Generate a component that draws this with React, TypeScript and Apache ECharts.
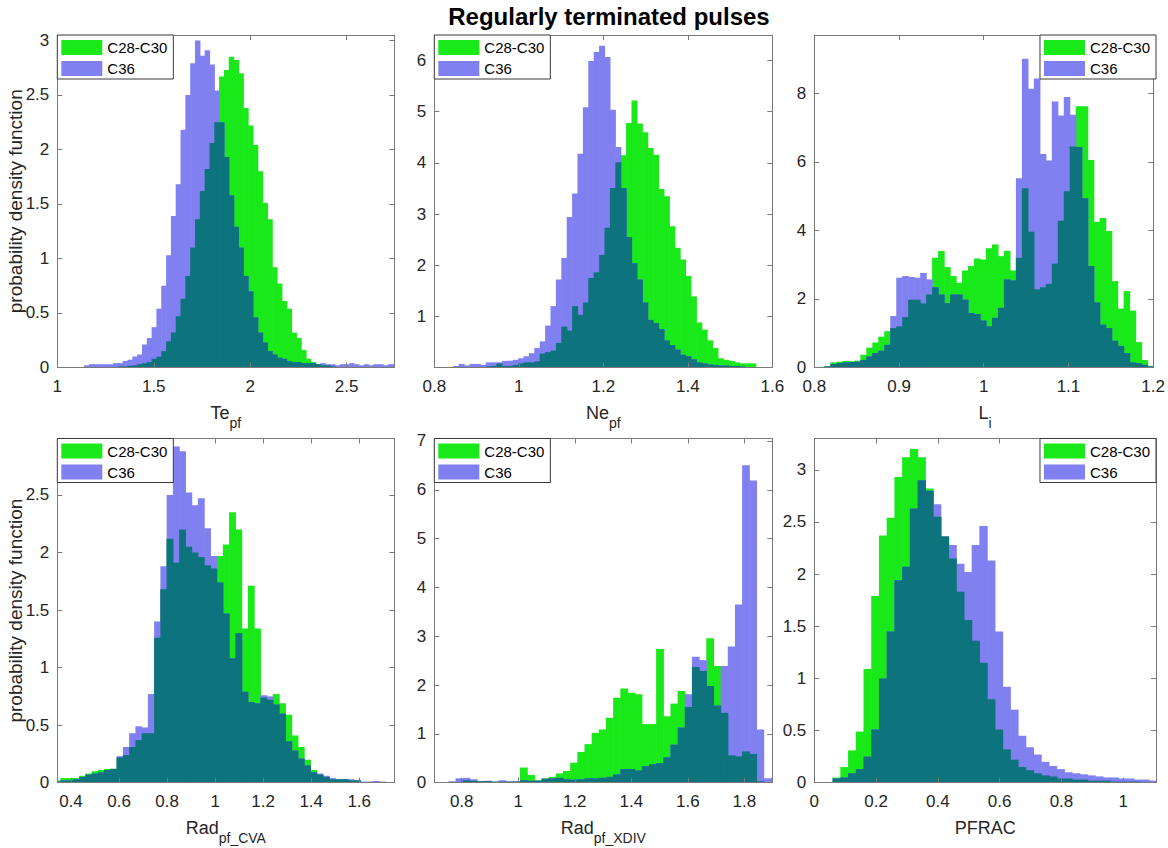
import React, { useEffect, useRef } from "react";
import * as echarts from "echarts";

const TITLE = "Regularly terminated pulses";
const SERIES_NAMES = ["C28-C30", "C36"];
const Y_NAME = "probability density function";

// ---- Te_pf ----
const TE_BIN_START = 1.1389;
const TE_BIN_WIDTH = 0.025;
const TE_C28 = [
  0, 0, 0, 0, 0, 0, 0, 0.01, 0.01, 0.015,
  0.02, 0.03, 0.04, 0.05, 0.08, 0.1, 0.15, 0.24, 0.32, 0.47,
  0.63, 0.84, 1.1, 1.36, 1.62, 1.82, 2.06, 2.25, 2.67, 2.73,
  2.85, 2.82, 2.7, 2.38, 2.22, 2.04, 1.8, 1.51, 1.36, 0.92,
  0.77, 0.61, 0.54, 0.32, 0.27, 0.16, 0.08, 0.05, 0.03, 0.02,
  0.02, 0.01, 0, 0, 0, 0, 0, 0, 0, 0,
  0, 0, 0, 0, 0,
];
const TE_C36 = [
  0.02, 0.03, 0.03, 0.03, 0.03, 0.03, 0.04, 0.04, 0.06, 0.07,
  0.1, 0.12, 0.21, 0.27, 0.37, 0.54, 0.75, 1.03, 1.39, 1.68,
  2.18, 2.5, 2.79, 3.0, 2.86, 2.91, 2.78, 2.54, 2.25, 1.93,
  1.58, 1.29, 1.1, 0.84, 0.7, 0.46, 0.32, 0.23, 0.15, 0.12,
  0.09, 0.08, 0.06, 0.05, 0.05, 0.04, 0.04, 0.04, 0.03, 0.04,
  0.03, 0.03, 0.02, 0.03, 0.03, 0.04, 0.03, 0.02, 0.03, 0.02,
  0.03, 0.03, 0.02, 0.03, 0.03,
];
const TE_RANGE = [1, 2.747, 3.05];
const TE_X_TICKS = [1, 1.5, 2, 2.5];
const TE_Y_TICKS = [0, 0.5, 1, 1.5, 2, 2.5, 3];

// ---- Ne_pf ----
const NE_BIN_START = 0.845;
const NE_BIN_WIDTH = 0.01278;
const NE_C28 = [
  0, 0, 0, 0, 0, 0, 0.02, 0.03, 0.08, 0.03,
  0.03, 0.05, 0.08, 0.1, 0.1, 0.12, 0.27, 0.3, 0.33, 0.48,
  0.8, 0.72, 1.2, 1.03, 1.27, 1.75, 1.86, 2.2, 2.73, 3.51,
  4.01, 4.15, 4.78, 5.22, 4.77, 4.6, 4.29, 4.16, 3.49, 3.35,
  2.76, 2.34, 2.11, 1.79, 1.39, 0.88, 0.74, 0.53, 0.38, 0.18,
  0.15, 0.13, 0.1, 0.08, 0.08, 0.08,
];
const NE_C36 = [
  0.03, 0.07, 0.04, 0.07, 0.07, 0.05, 0.1, 0.1, 0.1, 0.13,
  0.13, 0.15, 0.18, 0.22, 0.28, 0.38, 0.51, 0.82, 1.2, 1.72,
  2.14, 2.94, 3.4, 4.18, 5.09, 5.99, 6.17, 6.29, 6.07, 5.04,
  4.31, 3.51, 2.55, 2.04, 1.72, 1.27, 0.93, 0.87, 0.75, 0.53,
  0.44, 0.35, 0.25, 0.22, 0.16, 0.1, 0.08, 0.06, 0.05, 0.04,
  0.04, 0.03, 0.03, 0.02, 0, 0,
];
const NE_RANGE = [0.8, 1.6, 6.5];
const NE_X_TICKS = [0.8, 1, 1.2, 1.4, 1.6];
const NE_Y_TICKS = [1, 2, 3, 4, 5, 6];

// ---- L_i ----
const LI_BIN_START = 0.80488;
const LI_BIN_WIDTH = 0.007063;
const LI_C28 = [
  0.02, 0.04, 0.15, 0.17, 0.19, 0.18, 0.2, 0.37, 0.58, 0.73,
  0.9, 1.06, 1.15, 1.2, 1.47, 1.98, 1.98, 1.87, 2.13, 3.2,
  3.4, 2.93, 2.67, 2.47, 2.83, 2.96, 3.18, 3.15, 3.48, 3.59,
  3.25, 3.4, 2.83, 3.2, 5.23, 3.96, 2.28, 2.34, 2.44, 3.03,
  4.28, 5.14, 6.45, 7.62, 7.62, 6.05, 4.25, 4.36, 3.98, 2.52,
  1.72, 2.23, 1.66, 0.74, 0.22, 0.05,
];
const LI_C36 = [
  0.01, 0.03, 0.1, 0.13, 0.15, 0.16, 0.17, 0.22, 0.32, 0.42,
  0.49, 0.66, 1.5, 2.62, 2.67, 2.64, 2.62, 2.76, 2.57, 2.34,
  2.13, 1.88, 2.13, 2.13, 1.98, 1.59, 1.56, 1.37, 1.2, 1.45,
  1.74, 2.57, 2.54, 5.52, 9.01, 8.13, 8.43, 6.23, 6.04, 7.76,
  7.35, 7.89, 7.37, 6.43, 4.94, 2.96, 1.9, 1.25, 1.15, 0.78,
  0.63, 0.42, 0.15, 0.13, 0.08, 0.03,
];
const LI_RANGE = [0.8, 1.2, 9.7];
const LI_X_TICKS = [0.8, 0.9, 1, 1.1, 1.2];
const LI_Y_TICKS = [0, 2, 4, 6, 8];

// ---- Rad_pf_CVA ----
const CVA_BIN_START = 0.33;
const CVA_BIN_WIDTH = 0.02601;
const CVA_C28 = [
  0.02, 0.04, 0.04, 0.04, 0.06, 0.08, 0.1, 0.11, 0.12, 0.12,
  0.22, 0.24, 0.31, 0.37, 0.43, 0.43, 1.26, 1.68, 2.12, 1.91,
  2.2, 2.05, 2.0, 1.96, 1.89, 1.86, 1.97, 2.07, 2.35, 2.2,
  1.34, 1.71, 1.34, 0.74, 0.72, 0.77, 0.69, 0.59, 0.41, 0.31,
  0.2, 0.11, 0.07, 0.05, 0.03, 0.03, 0.03, 0.02, 0.02, 0,
  0, 0, 0, 0, 0,
];
const CVA_C36 = [
  0.01, 0.02, 0.02, 0.03, 0.05, 0.07, 0.08, 0.09, 0.11, 0.12,
  0.23, 0.31, 0.43, 0.49, 0.48, 0.77, 1.4, 1.88, 2.5, 2.92,
  2.88, 2.52, 2.41, 2.47, 2.21, 1.97, 1.74, 1.47, 1.08, 1.3,
  0.79, 0.7, 0.69, 0.76, 0.75, 0.68, 0.6, 0.36, 0.28, 0.21,
  0.15, 0.09, 0.08, 0.06, 0.04, 0.03, 0.03, 0.03, 0.02, 0.01,
  0.01, 0.015, 0.01, 0.005, 0,
];
const CVA_RANGE = [0.343, 1.746, 2.99];
const CVA_X_TICKS = [0.4, 0.6, 0.8, 1, 1.2, 1.4, 1.6];
const CVA_Y_TICKS = [0, 0.5, 1, 1.5, 2, 2.5];

// ---- Rad_pf_XDIV ----
const XDIV_BIN_START = 0.7528;
const XDIV_BIN_WIDTH = 0.02535;
const XDIV_C28 = [
  0, 0, 0.05, 0.04, 0.03, 0.03, 0.02, 0.02, 0.02, 0.02,
  0.31, 0.16, 0.05, 0.09, 0.12, 0.19, 0.24, 0.41, 0.63, 0.79,
  1.02, 1.09, 1.33, 1.74, 1.93, 1.84, 1.81, 1.2, 1.2, 2.74,
  1.36, 1.62, 1.88, 1.55, 2.37, 2.29, 2.96, 2.39, 1.43, 0.56,
  0.54, 0.64, 0.59, 0.03, 0, 0,
];
const XDIV_C36 = [
  0.03, 0.09, 0.1, 0.07, 0.03, 0.04, 0.02, 0.05, 0.03, 0.03,
  0.05, 0.04, 0.04, 0.08, 0.09, 0.1, 0.07, 0.06, 0.07, 0.09,
  0.09, 0.1, 0.12, 0.17, 0.28, 0.28, 0.25, 0.34, 0.38, 0.4,
  0.52, 0.78, 1.13, 1.81, 2.58, 2.51, 1.98, 1.58, 2.39, 2.79,
  3.65, 6.5, 6.19, 1.09, 0.09, 0.1,
];
const XDIV_RANGE = [0.703, 1.899, 7.05];
const XDIV_X_TICKS = [0.8, 1, 1.2, 1.4, 1.6, 1.8];
const XDIV_Y_TICKS = [0, 1, 2, 3, 4, 5, 6, 7];

// ---- PFRAC ----
const PF_BIN_START = 0.0593;
const PF_BIN_WIDTH = 0.025;
const PF_C28 = [
  0.05, 0.15, 0.31, 0.49, 1.09, 1.79, 2.37, 2.54, 2.93, 3.12,
  3.2, 3.12, 2.82, 2.55, 2.36, 2.15, 1.83, 1.56, 1.36, 1.15,
  0.8, 0.51, 0.32, 0.22, 0.15, 0.12, 0.09, 0.07, 0.06, 0.04,
  0.04, 0.03, 0.03, 0.02, 0.02, 0.02, 0.01, 0.01, 0.01, 0.01,
  0, 0,
];
const PF_C36 = [
  0.04, 0.05, 0.09, 0.13, 0.25, 0.51, 1.0, 1.45, 1.94, 2.07,
  2.63, 2.9, 2.8, 2.67, 2.36, 2.28, 2.1, 2.02, 2.28, 2.46,
  2.13, 1.45, 0.92, 0.7, 0.45, 0.34, 0.27, 0.2, 0.16, 0.13,
  0.1, 0.09, 0.08, 0.07, 0.06, 0.05, 0.05, 0.04, 0.04, 0.03,
  0.03, 0.02,
];
const PF_RANGE = [0, 1.106, 3.3];
const PF_X_TICKS = [0, 0.2, 0.4, 0.6, 0.8, 1];
const PF_Y_TICKS = [0, 0.5, 1, 1.5, 2, 2.5, 3];

// ---- styling / layout ----
const FONT = "'Liberation Sans', Arial, Helvetica, sans-serif";
const GREEN = "#19e819";
const PURPLE = "#8080f0";
const TEAL = "#0d737d";
const AXIS_COLOR = "#7a7a7a";
const TEXT_COLOR = "#262626";

const COLS = [
  { left: 57.3, width: 337 },
  { left: 434.3, width: 338 },
  { left: 814.3, width: 341.7 },
];
const ROWS = [
  { top: 35, height: 332.5 },
  { top: 438.5, height: 344.2 },
];

const PANELS = [
  { main: "Te", sub: "pf", start: TE_BIN_START, bw: TE_BIN_WIDTH, c28: TE_C28, c36: TE_C36, range: TE_RANGE, xt: TE_X_TICKS, yt: TE_Y_TICKS, row: 0, col: 0 },
  { main: "Ne", sub: "pf", start: NE_BIN_START, bw: NE_BIN_WIDTH, c28: NE_C28, c36: NE_C36, range: NE_RANGE, xt: NE_X_TICKS, yt: NE_Y_TICKS, row: 0, col: 1 },
  { main: "L", sub: "i", start: LI_BIN_START, bw: LI_BIN_WIDTH, c28: LI_C28, c36: LI_C36, range: LI_RANGE, xt: LI_X_TICKS, yt: LI_Y_TICKS, row: 0, col: 2 },
  { main: "Rad", sub: "pf_CVA", start: CVA_BIN_START, bw: CVA_BIN_WIDTH, c28: CVA_C28, c36: CVA_C36, range: CVA_RANGE, xt: CVA_X_TICKS, yt: CVA_Y_TICKS, row: 1, col: 0 },
  { main: "Rad", sub: "pf_XDIV", start: XDIV_BIN_START, bw: XDIV_BIN_WIDTH, c28: XDIV_C28, c36: XDIV_C36, range: XDIV_RANGE, xt: XDIV_X_TICKS, yt: XDIV_Y_TICKS, row: 1, col: 1 },
  { main: "PFRAC", sub: "", start: PF_BIN_START, bw: PF_BIN_WIDTH, c28: PF_C28, c36: PF_C36, range: PF_RANGE, xt: PF_X_TICKS, yt: PF_Y_TICKS, row: 1, col: 2 },
];

function makeRender(color: string) {
  return (params: any, api: any) => {
    const x0 = api.value(0);
    const x1 = api.value(1);
    const h = api.value(2);
    if (!(h > 0)) return null;
    const a = api.coord([x0, 0]);
    const b = api.coord([x1, h]);
    const cs = params.coordSys;
    const shape = echarts.graphic.clipRectByRect(
      { x: a[0], y: b[1], width: b[0] - a[0] + 0.6, height: a[1] - b[1] },
      { x: cs.x, y: cs.y, width: cs.width, height: cs.height }
    );
    if (!shape) return null;
    return { type: "rect", shape, style: { fill: color } };
  };
}

function axis(gridIndex: number, min: number, max: number, ticks: number[], position: string, showLabel: boolean, margin: number) {
  return {
    type: "value",
    gridIndex,
    min,
    max,
    position,
    z: 5,
    axisLine: { show: true, onZero: false, lineStyle: { color: AXIS_COLOR, width: 1 } },
    axisTick: { show: true, inside: true, length: 5, customValues: ticks, lineStyle: { color: AXIS_COLOR } },
    axisLabel: { show: showLabel, customValues: ticks, margin, fontSize: 17, color: TEXT_COLOR, fontFamily: FONT },
    splitLine: { show: false },
  };
}

export default function App() {
  const ref = useRef<HTMLDivElement>(null);

  useEffect(() => {
    if (!ref.current) return;
    const chart = echarts.init(ref.current, undefined, { renderer: "svg" });

    const grid: any[] = [];
    const xAxis: any[] = [];
    const yAxis: any[] = [];
    const series: any[] = [];
    const legend: any[] = [];
    const graphic: any[] = [];

    PANELS.forEach((p, i) => {
      const c = COLS[p.col];
      const r = ROWS[p.row];
      grid.push({ left: c.left, top: r.top, width: c.width, height: r.height, containLabel: false });
      const xb = xAxis.length;
      xAxis.push(axis(i, p.range[0], p.range[1], p.xt, "bottom", true, 10));
      xAxis.push(axis(i, p.range[0], p.range[1], p.xt, "top", false, 10));
      const yb = yAxis.length;
      yAxis.push(axis(i, 0, p.range[2], p.yt, "left", true, 8));
      yAxis.push(axis(i, 0, p.range[2], p.yt, "right", false, 8));

      const edges = p.c28.map((_, k) => [p.start + k * p.bw, p.start + (k + 1) * p.bw]);
      const dGreen = p.c28.map((v, k) => [edges[k][0], edges[k][1], v]);
      const dPurple = p.c36.map((v, k) => [edges[k][0], edges[k][1], v]);
      const dOverlap = p.c28.map((v, k) => [edges[k][0], edges[k][1], Math.min(v, p.c36[k])]);
      const base = { type: "custom", xAxisIndex: xb, yAxisIndex: yb, encode: { x: [0, 1], y: 2 }, silent: true };
      series.push({ ...base, name: SERIES_NAMES[0], itemStyle: { color: GREEN }, renderItem: makeRender(GREEN), data: dGreen, z: 2 });
      series.push({ ...base, name: SERIES_NAMES[1], itemStyle: { color: PURPLE }, renderItem: makeRender(PURPLE), data: dPurple, z: 3 });
      series.push({ ...base, name: "overlap", itemStyle: { color: TEAL }, renderItem: makeRender(TEAL), data: dOverlap, z: 4 });

      const leg: any = {
        orient: "vertical",
        top: r.top,
        data: SERIES_NAMES,
        icon: "rect",
        itemWidth: 41,
        itemHeight: 15,
        itemGap: 6,
        padding: [5, 6, 3, 4],
        backgroundColor: "#ffffff",
        borderColor: "#3a3a3a",
        borderWidth: 1,
        selectedMode: false,
        textStyle: { fontSize: 15, color: "#000", fontFamily: FONT, lineHeight: 15 },
        z: 10,
      };
      if (p.col === 2) leg.right = 1168 - (c.left + c.width);
      else leg.left = c.left;
      legend.push(leg);

      const rich: any = {
        m: { fontSize: 18, lineHeight: 20, fontFamily: FONT, fill: TEXT_COLOR, color: TEXT_COLOR },
        s: { fontSize: 14, lineHeight: 16, fontFamily: FONT, fill: TEXT_COLOR, color: TEXT_COLOR, padding: [20, 0, 0, 0] },
      };
      graphic.push({
        type: "text",
        x: c.left + c.width / 2,
        y: r.top + r.height + 45,
        z: 10,
        style: {
          text: p.sub ? `{m|${p.main}}{s|${p.sub}}` : `{m|${p.main}}`,
          rich,
          fill: TEXT_COLOR,
          font: `18px ${FONT}`,
          align: "center",
          verticalAlign: "middle",
          textAlign: "center",
          textVerticalAlign: "middle",
        },
      });
    });

    ROWS.forEach((r) => {
      graphic.push({
        type: "text",
        x: 15,
        y: r.top + r.height / 2,
        rotation: Math.PI / 2,
        z: 10,
        style: {
          text: Y_NAME,
          fill: TEXT_COLOR,
          font: `19px ${FONT}`,
          align: "center",
          verticalAlign: "middle",
          textAlign: "center",
          textVerticalAlign: "middle",
        },
      });
    });

    graphic.push({
      type: "text",
      x: 609,
      y: 16.5,
      z: 10,
      style: {
        text: TITLE,
        fill: "#000",
        font: `bold 24px ${FONT}`,
        align: "center",
        verticalAlign: "middle",
        textAlign: "center",
        textVerticalAlign: "middle",
      },
    });

    chart.setOption({
      animation: false,
      backgroundColor: "#ffffff",
      textStyle: { fontFamily: FONT },
      grid,
      xAxis,
      yAxis,
      series,
      legend,
      graphic,
    });

    return () => chart.dispose();
  }, []);

  return <div ref={ref} style={{ position: "absolute", left: 0, top: 0, width: 1168, height: 848, background: "#fff" }} />;
}
